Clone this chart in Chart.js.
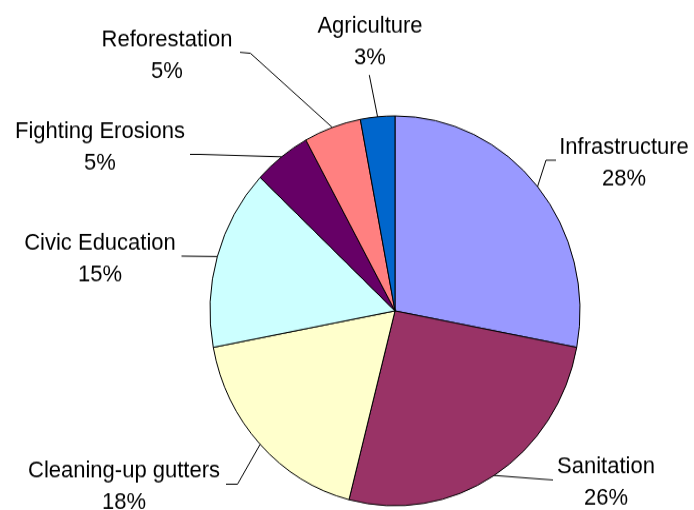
<!DOCTYPE html>
<html>
<head>
<meta charset="utf-8">
<title>Project shares</title>
<script src="https://cdn.jsdelivr.net/npm/chart.js@4"></script>
<style>
  body { margin: 0; background: #fff; }
  #shareChart { display: block; }
</style>
</head>
<body>
<!-- drawn at 694x484, shown a little taller -->
<canvas id="shareChart" width="694" height="484" style="width:694px;height:510px"></canvas>
<script>
// share of each activity, in percent, clockwise from 12 o'clock
const categories = [
  "Infrastructure",
  "Sanitation",
  "Cleaning-up gutters",
  "Civic Education",
  "Fighting Erosions",
  "Reforestation",
  "Agriculture",
];
const shares = [28, 26, 18, 15, 5, 5, 3];
const sliceColors = ["#9999FF", "#993366", "#FFFFCC", "#CCFFFF", "#660066", "#FF8080", "#0066CC"];

// where each label sits (center x, first baseline) and the bend of its leader line
const labelLayout = [
  { x: 624, y: 146, leader: [[556, 152], [546, 152]] },
  { x: 606, y: 449, leader: [[553, 455.5]] },
  { x: 124, y: 453, leader: [[226, 459.5], [237.5, 459.5]] },
  { x: 100, y: 237, leader: [[181.5, 243]] },
  { x: 100, y: 131, leader: [[190, 146.5], [200, 146.5]] },
  { x: 167, y: 44, leader: [[240, 49.6], [250.5, 50.6]] },
  { x: 370, y: 31, leader: [[369.3, 71.2]] },
];
const lineGap = 29.5;

const sliceLabels = {
  id: "sliceLabels",
  afterDatasetsDraw(chart) {
    const ctx = chart.ctx;
    const arcs = chart.getDatasetMeta(0).data;
    ctx.save();
    ctx.font = '22px "Liberation Sans", Arial, sans-serif';
    ctx.fillStyle = "#000";
    ctx.strokeStyle = "#000";
    ctx.lineWidth = 1;
    ctx.textAlign = "center";
    ctx.textBaseline = "alphabetic";
    arcs.forEach((arc, i) => {
      const lay = labelLayout[i];
      const mid = (arc.startAngle + arc.endAngle) / 2;
      const ex = arc.x + Math.cos(mid) * arc.outerRadius;
      const ey = arc.y + Math.sin(mid) * arc.outerRadius;

      ctx.beginPath();
      ctx.moveTo(lay.leader[0][0], lay.leader[0][1]);
      for (let k = 1; k < lay.leader.length; k++) {
        ctx.lineTo(lay.leader[k][0], lay.leader[k][1]);
      }
      ctx.lineTo(ex, ey);
      ctx.stroke();

      ctx.fillText(categories[i], lay.x, lay.y);
      ctx.fillText(shares[i] + "%", lay.x, lay.y + lineGap);
    });
    ctx.restore();
  },
};

const ctx = document.getElementById("shareChart").getContext("2d");

new Chart(ctx, {
  type: "pie",
  data: {
    labels: categories,
    datasets: [
      {
        data: shares,
        backgroundColor: sliceColors,
        borderColor: "#000",
        borderWidth: 1,
        borderAlign: "center",
      },
    ],
  },
  options: {
    responsive: false,
    devicePixelRatio: 1,
    animation: false,
    radius: 185,
    layout: { padding: { left: 100, right: 4, top: 110, bottom: 4 } },
    plugins: {
      legend: { display: false },
      tooltip: { enabled: false },
    },
  },
  plugins: [sliceLabels],
});
</script>
</body>
</html>
